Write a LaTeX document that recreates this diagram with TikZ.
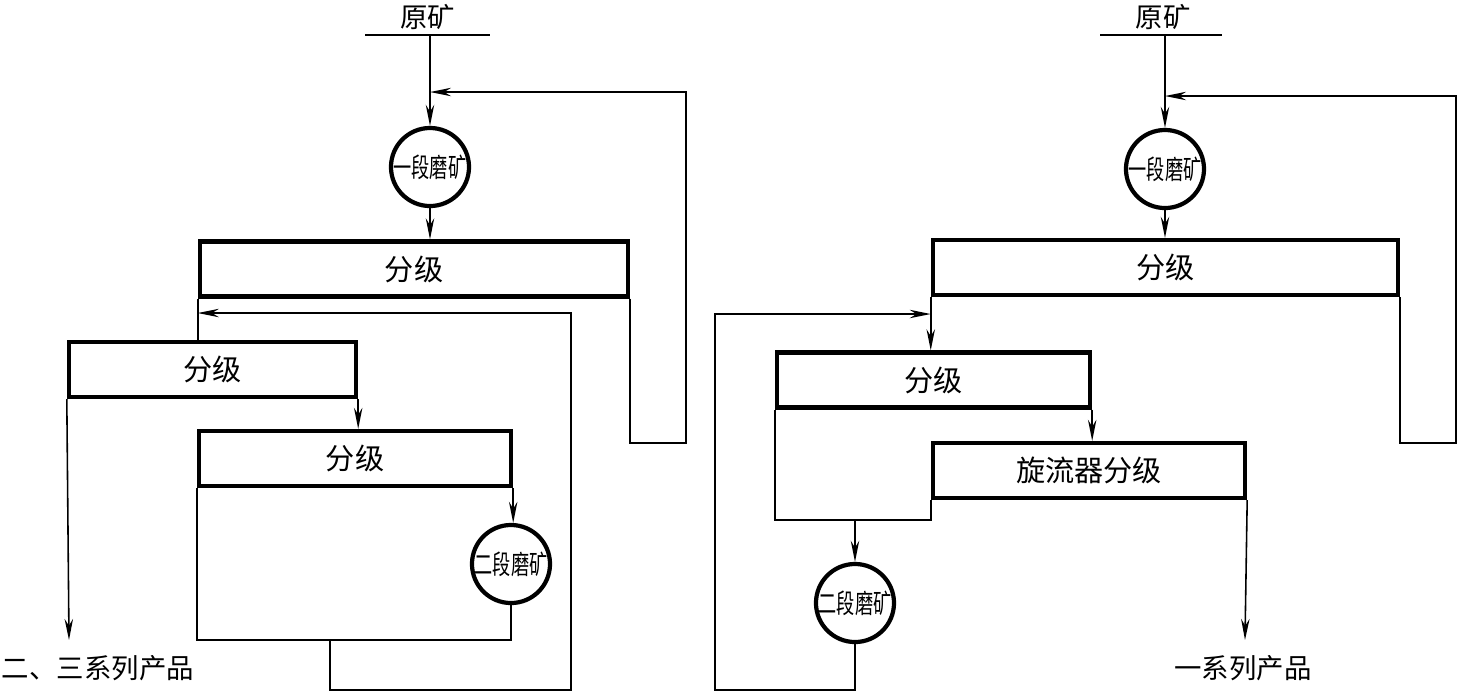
\documentclass[tikz,border=0pt]{standalone}
\usepackage{fontspec}
\usepackage{graphicx}
\setmainfont{Noto Sans CJK SC}
\usetikzlibrary{arrows.meta,positioning}
\newcommand{\millname}[1]{\scalebox{0.68}[1]{#1}}

\begin{document}
\begin{tikzpicture}[x=0.01cm,y=-0.01cm,
  pipe/.style={line width=0.45pt},
  flow/.style={pipe,-{Stealth[length=6pt,width=2.4pt]}},
  clbox/.style={draw,line width=1.2pt,inner sep=0pt,minimum height=0.55cm,
    font=\fontsize{8.3}{9}\selectfont},
  mill/.style={draw,circle,line width=1.2pt,inner sep=0pt,minimum size=0.78cm,
    font=\fontsize{7.6}{8}\selectfont},
  tag/.style={inner sep=0pt,font=\fontsize{7.8}{9}\selectfont}]
\useasboundingbox (0,0) rectangle (1459,693);
% ---- left: three-stage classification, regrind loop
\node[tag] (oreL) at (428,17) {原矿};
\coordinate (barLa) at (365,35);
\coordinate (barLb) at (490,35);
\coordinate (inL) at (430,35);
\node[mill] (m1L) at (430,167) {\millname{一段磨矿}};
\node[clbox,minimum width=4.28cm] (c1L) at (414,269) {分级};
\node[clbox,minimum width=2.87cm] (c2L) at (212.5,369.5) {分级};
\node[clbox,minimum width=3.12cm] (c3L) at (355,458.5) {分级};
\node[mill] (m2L) at (511,564) {\millname{二段磨矿}};
\node[tag] (prodL) at (98,668) {二、三系列产品};
\coordinate (rL1) at (686,443);
\coordinate (rL2) at (686,92);
\coordinate (jL) at (330,640);
\coordinate (rL3) at (330,690);
\coordinate (rL4) at (571,313);
\coordinate (outL) at (69,640);
\draw[pipe] (barLa) -- (barLb);
\draw[flow] (inL) -- (m1L);
\draw[flow] (m1L) -- (m1L |- c1L.north);
\draw[flow] (c1L.south east) |- (rL1) -- (rL2) -- (inL |- rL2);
\draw[pipe] (c1L.south west) -- (c1L.south west |- c2L.north);
\draw[flow] (c2L.south east) -- (c2L.south east |- c3L.north);
\draw[flow] (c2L.south west) -- (outL);
\draw[flow] (c3L.south east) -- (c3L.south east |- m2L.north);
\draw[pipe] (c3L.south west) |- (jL) -| (m2L.south);
\draw[flow] (jL) -- (rL3) -| (rL4) -- (c1L.south west |- rL4);
% ---- right: cyclone classification, regrind loop
\node[tag] (oreR) at (1163,17) {原矿};
\coordinate (barRa) at (1100,35);
\coordinate (barRb) at (1222,35);
\coordinate (inR) at (1165,35);
\node[mill] (m1R) at (1165,169) {\millname{一段磨矿}};
\node[clbox,minimum width=4.65cm] (c1R) at (1165.5,267.5) {分级};
\node[clbox,minimum width=3.13cm] (c2R) at (933.5,380) {分级};
\node[clbox,minimum width=3.12cm] (c3R) at (1089,470.5) {旋流器分级};
\node[mill] (m2R) at (855,603) {\millname{二段磨矿}};
\node[tag] (prodR) at (1243,668) {一系列产品};
\coordinate (rR1) at (1456,443);
\coordinate (rR2) at (1456,96);
\coordinate (jR) at (855,520);
\coordinate (rR3) at (855,690);
\coordinate (rR4) at (715,314);
\coordinate (outR) at (1245,640);
\draw[pipe] (barRa) -- (barRb);
\draw[flow] (inR) -- (m1R);
\draw[flow] (m1R) -- (m1R |- c1R.north);
\draw[flow] (c1R.south east) |- (rR1) -- (rR2) -- (inR |- rR2);
\draw[flow] (c1R.south west) -- (c1R.south west |- c2R.north);
\draw[flow] (c2R.south east) -- (c2R.south east |- c3R.north);
\draw[flow] (c3R.south east) -- (outR);
\draw[pipe] (c2R.south west) |- (jR) -| (c3R.south west);
\draw[flow] (jR) -- (m2R);
\draw[flow] (m2R.south) -- (rR3) -| (rR4) -- (c1R.south west |- rR4);
\end{tikzpicture}
\end{document}
